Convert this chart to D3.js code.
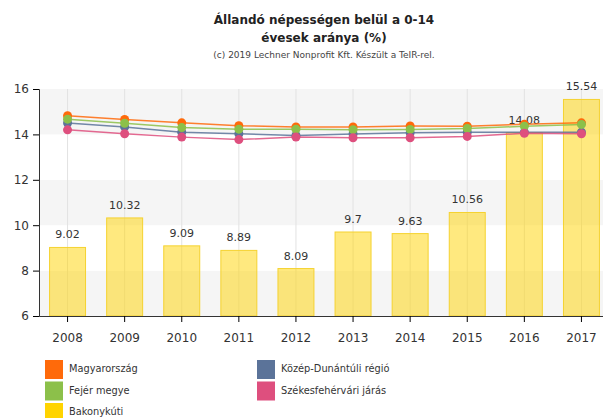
<!DOCTYPE html>
<meta charset="utf-8">
<style>
  body { margin: 0; background: #fff; }
  text { font-family: "DejaVu Sans", Verdana, sans-serif; fill: #333; }
</style>
<body>
<script src="https://d3js.org/d3.v7.min.js"></script>
<script>

// data
var years = ["2008","2009","2010","2011","2012","2013","2014","2015","2016","2017"];
var bakonykuti = [9.02, 10.32, 9.09, 8.89, 8.09, 9.7, 9.63, 10.56, 14.08, 15.54];
var magyarorszag = [14.82, 14.66, 14.51, 14.38, 14.33, 14.33, 14.37, 14.36, 14.45, 14.51];
var kozepDunantul = [14.5, 14.33, 14.1, 14.03, 13.95, 14.02, 14.07, 14.1, 14.1, 14.1];
var fejer = [14.67, 14.49, 14.3, 14.23, 14.23, 14.21, 14.22, 14.26, 14.36, 14.44];
var szekesfehervar = [14.2, 14.03, 13.88, 13.77, 13.88, 13.85, 13.85, 13.91, 14.05, 14.03];
var yTicks = [6, 8, 10, 12, 14, 16];

var lineSeries = [
  {name: "Magyarország", values: magyarorszag, color: "#ff6a0a"},
  {name: "Közép-Dunántúli régió", values: kozepDunantul, color: "#5b7399"},
  {name: "Fejér megye", values: fejer, color: "#8cc04a"},
  {name: "Székesfehérvári járás", values: szekesfehervar, color: "#de4f7e"}
];

var width = 603, height = 418;
var plot = {left: 39, right: 610, top: 89, bottom: 316};
var titleX = 324;

var svg = d3.select("body").append("svg")
    .attr("width", width)
    .attr("height", height);

// title
svg.append("text").attr("x", titleX).attr("y", 24).attr("text-anchor", "middle")
    .style("font-size", "12px").style("font-weight", "bold").style("fill", "#222")
    .text("Állandó népességen belül a 0-14");
svg.append("text").attr("x", titleX).attr("y", 42).attr("text-anchor", "middle")
    .style("font-size", "12px").style("font-weight", "bold").style("fill", "#222")
    .text("évesek aránya (%)");
svg.append("text").attr("x", titleX).attr("y", 58).attr("text-anchor", "middle")
    .style("font-size", "9px").style("fill", "#444")
    .text("(c) 2019 Lechner Nonprofit Kft. Készült a TeIR-rel.");

var x = d3.scaleBand()
    .domain(years)
    .range([plot.left, plot.right])
    .paddingInner(0.37)
    .paddingOuter(0.185);

var y = d3.scaleLinear()
    .domain([6, 16])
    .range([plot.bottom, plot.top]);

// alternating bands
for (var i = 0; i < yTicks.length - 1; i++) {
  svg.append("rect")
      .attr("x", plot.left)
      .attr("y", y(yTicks[i + 1]))
      .attr("width", plot.right - plot.left)
      .attr("height", y(yTicks[i]) - y(yTicks[i + 1]))
      .attr("fill", i % 2 === 0 ? "#f5f5f5" : "#ffffff");
}

// vertical grid
svg.selectAll(".vgrid")
    .data(years)
  .enter().append("line")
    .attr("class", "vgrid")
    .attr("x1", function(d) { return x(d) + x.bandwidth() / 2; })
    .attr("x2", function(d) { return x(d) + x.bandwidth() / 2; })
    .attr("y1", plot.top)
    .attr("y2", plot.bottom)
    .attr("stroke", "#e2e2e2");

// bars
svg.selectAll(".bar")
    .data(bakonykuti)
  .enter().append("rect")
    .attr("class", "bar")
    .attr("x", function(d, i) { return x(years[i]); })
    .attr("width", x.bandwidth())
    .attr("y", function(d) { return y(d); })
    .attr("height", function(d) { return y(6) - y(d); })
    .attr("fill", "#ffd400")
    .attr("fill-opacity", 0.5)
    .attr("stroke", "#f5d230")
    .attr("stroke-width", 1);

svg.selectAll(".barlabel")
    .data(bakonykuti)
  .enter().append("text")
    .attr("class", "barlabel")
    .attr("x", function(d, i) { return x(years[i]) + x.bandwidth() / 2; })
    .attr("y", function(d) { return y(d) - 9; })
    .attr("text-anchor", "middle")
    .style("font-size", "11px")
    .text(function(d) { return d; });

// lines
var line = d3.line()
    .x(function(d, i) { return x(years[i]) + x.bandwidth() / 2; })
    .y(function(d) { return y(d); });

lineSeries.forEach(function(s) {
  svg.append("path")
      .datum(s.values)
      .attr("fill", "none")
      .attr("stroke", s.color)
      .attr("stroke-opacity", 0.85)
      .attr("stroke-width", 1.5)
      .attr("d", line);
});
lineSeries.forEach(function(s) {
  svg.selectAll(null)
      .data(s.values)
    .enter().append("circle")
      .attr("cx", function(d, i) { return x(years[i]) + x.bandwidth() / 2; })
      .attr("cy", function(d) { return y(d); })
      .attr("r", 4.5)
      .attr("fill", s.color);
});

// axes
var yAxis = svg.append("g")
    .attr("transform", "translate(" + plot.left + ",0)")
    .call(d3.axisLeft(y).tickValues(yTicks).tickSize(6).tickPadding(4));
yAxis.selectAll("text").style("font-size", "12px");
yAxis.select(".domain").attr("stroke", "#333");

var xAxis = svg.append("g")
    .attr("transform", "translate(0," + plot.bottom + ")")
    .call(d3.axisBottom(x).tickSize(6).tickPadding(11).tickSizeOuter(0));
xAxis.selectAll("text").style("font-size", "12px");
xAxis.select(".domain").attr("stroke", "#333");

// legend
var legendItems = [
  {name: "Magyarország", color: "#ff6a0a", col: 0, row: 0},
  {name: "Fejér megye", color: "#8cc04a", col: 0, row: 1},
  {name: "Bakonykúti", color: "#ffd400", col: 0, row: 2},
  {name: "Közép-Dunántúli régió", color: "#5b7399", col: 1, row: 0},
  {name: "Székesfehérvári járás", color: "#de4f7e", col: 1, row: 1}
];

var legend = svg.selectAll(".legend")
    .data(legendItems)
  .enter().append("g")
    .attr("class", "legend")
    .attr("transform", function(d) {
      return "translate(" + (45 + d.col * 212) + "," + (360 + d.row * 21.5) + ")";
    });
legend.append("rect")
    .attr("width", 18)
    .attr("height", 19)
    .attr("fill", function(d) { return d.color; });
legend.append("text")
    .attr("x", 24)
    .attr("y", 12)
    .style("font-size", "9.8px")
    .text(function(d) { return d.name; });

</script>
</body>
